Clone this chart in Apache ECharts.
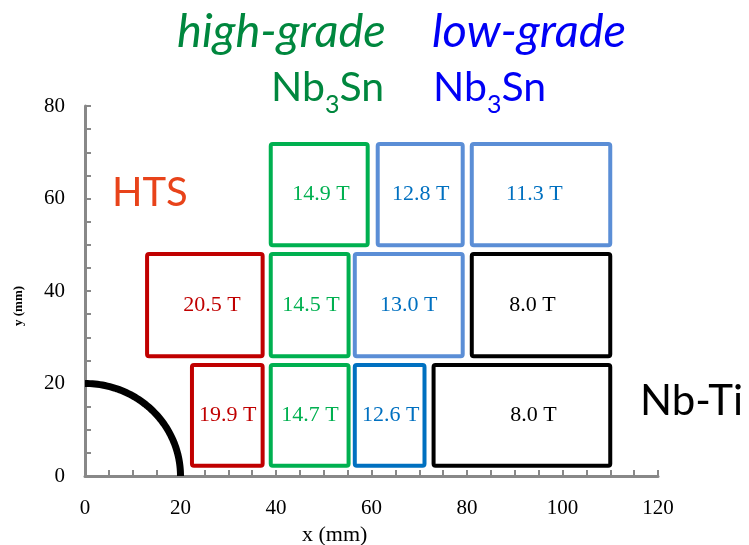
<!DOCTYPE html>
<html>
<head>
<meta charset="utf-8">
<script src="https://cdn.jsdelivr.net/npm/echarts@6/dist/echarts.min.js"></script>
<style>
  html, body { margin: 0; padding: 0; background: #fff; }
  #chart { width: 749px; height: 545px; }
</style>
</head>
<body>
<div id="chart"></div>
<script>
// Coil blocks: x range, y range (mm), peak field label, conductor group
const blockX0 = [13.0, 22.4, 38.9, 38.9, 38.9, 61.3, 81.0, 56.5, 81.0, 56.5, 73.0];
const blockX1 = [37.2, 37.2, 55.2, 55.2, 59.2, 79.1, 110.0, 79.1, 110.0, 71.1, 110.0];
const blockY0 = [25.9, 2.2, 25.9, 2.2, 49.9, 49.9, 49.9, 25.9, 25.9, 2.2, 2.2];
const blockY1 = [48.0, 24.0, 48.0, 24.0, 71.8, 71.8, 71.8, 48.0, 48.0, 24.0, 24.0];
const blockField = ['20.5 T', '19.9 T', '14.5 T', '14.7 T', '14.9 T', '12.8 T', '11.3 T', '13.0 T', '8.0 T', '12.6 T', '8.0 T'];
const blockGroup = ['hts', 'hts', 'hg', 'hg', 'hg', 'lg', 'lg', 'lg', 'nbti', 'lgb', 'nbti'];
// x (mm) where each field label is centred
const labelX = [26.6, 29.9, 47.3, 47.1, 49.4, 70.3, 94.1, 67.8, 93.7, 64.0, 93.9];

// Beam aperture radius (mm)
const apertureRadius = [20];

const xTicks = [0, 20, 40, 60, 80, 100, 120];
const yTicks = [0, 20, 40, 60, 80];

const edgeColor = { hts: '#C00000', hg: '#00B050', lg: '#5B8ED6', lgb: '#0070C0', nbti: '#000000' };
const textColor = { hts: '#C00000', hg: '#00B050', lg: '#0070C0', lgb: '#0070C0', nbti: '#000000' };

const blocks = blockX0.map((x0, i) => [x0, blockX1[i], blockY0[i], blockY1[i], i, labelX[i]]);

const chart = echarts.init(document.getElementById('chart'));
const serif = '"Liberation Serif", "Times New Roman", serif';
const sans = 'Lato, "Open Sans", sans-serif';

const formula = (color) => ({
  text: '{a|Nb}{s|3}{a|Sn}', fill: color,
  rich: { a: { fontFamily: sans, fontSize: 41, fill: color, verticalAlign: 'bottom' },
          s: { fontFamily: sans, fontSize: 25, fill: color, verticalAlign: 'bottom', padding: [0, 0, -9, 0] } }
});

chart.setOption({
  animation: false,
  grid: { left: 85, right: 91, top: 106, bottom: 69 },
  xAxis: {
    type: 'value', min: 0, max: 120, interval: 20,
    axisLine: { lineStyle: { color: '#888', width: 3 } },
    axisTick: { inside: true, length: 6, lineStyle: { color: '#888', width: 2 } },
    minorTick: { show: true, splitNumber: 4, length: 6, lineStyle: { color: '#888', width: 2 } },
    axisLabel: { fontFamily: serif, fontSize: 21, color: '#000', margin: 22,
      formatter: v => xTicks.includes(v) ? String(v) : '' },
    splitLine: { show: false }
  },
  yAxis: {
    type: 'value', min: 0, max: 80, interval: 20,
    axisLine: { lineStyle: { color: '#888', width: 3 } },
    axisTick: { inside: true, length: 6, lineStyle: { color: '#888', width: 2 } },
    minorTick: { show: true, splitNumber: 4, length: 6, lineStyle: { color: '#888', width: 2 } },
    axisLabel: { fontFamily: serif, fontSize: 21, color: '#000', margin: 20,
      formatter: v => yTicks.includes(v) ? String(v) : '' },
    splitLine: { show: false }
  },
  graphic: [
    { type: 'text', left: 177, top: 8, style: { text: 'high-grade', fill: '#00873E', font: 'italic 47px ' + sans } },
    { type: 'text', left: 432, top: 8, style: { text: 'low-grade', fill: '#0000F5', font: 'italic 47px ' + sans } },
    { type: 'text', left: 271, top: 67, style: formula('#00873E') },
    { type: 'text', left: 433, top: 67, style: formula('#0000F5') },
    { type: 'text', left: 112, top: 173, style: { text: 'HTS', fill: '#E8431A', font: '40px ' + sans } },
    { type: 'text', left: 640, top: 380, style: { text: 'Nb-Ti', fill: '#000', font: '42px ' + sans } },
    { type: 'text', left: 302, top: 524, style: { text: 'x (mm)', fill: '#000', font: '22px ' + serif } },
    { type: 'text', x: 12, y: 326, rotation: Math.PI / 2,
      style: { text: 'y (mm)', fill: '#000', font: 'bold 13px ' + serif } }
  ],
  series: [
    {
      type: 'custom',
      data: apertureRadius.map(r => [0, 0, r]),
      renderItem: (params, api) => {
        const r = api.value(2);
        const pts = [];
        for (let k = 0; k <= 60; k++) {
          const a = (Math.PI / 2) * k / 60;
          pts.push(api.coord([r * Math.cos(a), r * Math.sin(a)]));
        }
        return { type: 'polyline', shape: { points: pts },
          style: { stroke: '#000', lineWidth: 7, fill: null, lineCap: 'butt' } };
      },
      z: 3
    },
    {
      type: 'custom',
      data: blocks,
      renderItem: (params, api) => {
        const i = api.value(4);
        const p0 = api.coord([api.value(0), api.value(3)]);
        const p1 = api.coord([api.value(1), api.value(2)]);
        const lx = api.coord([api.value(5), 0])[0];
        const g = blockGroup[i];
        return {
          type: 'group',
          children: [
            { type: 'rect', shape: { x: p0[0], y: p0[1], width: p1[0] - p0[0], height: p1[1] - p0[1], r: 2 },
              style: { fill: 'rgba(255,255,255,0)', stroke: edgeColor[g], lineWidth: 4 } },
            { type: 'text', x: lx, y: (p0[1] + p1[1]) / 2,
              style: { text: blockField[i], fill: textColor[g], font: '22px ' + serif, align: 'center', verticalAlign: 'middle' } }
          ]
        };
      },
      z: 4
    }
  ]
});
</script>
</body>
</html>
